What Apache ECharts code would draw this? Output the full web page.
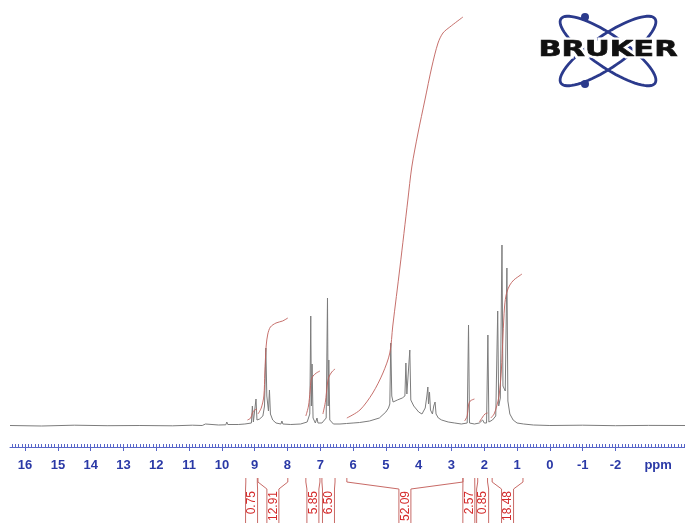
<!DOCTYPE html>
<html>
<head>
<meta charset="utf-8">
<script src="https://cdn.jsdelivr.net/npm/echarts@6/dist/echarts.min.js"></script>
<style>
  html, body { margin: 0; padding: 0; background: #fff; }
  #chart { width: 685px; height: 523px; }
</style>
</head>
<body>
<div id="chart"></div>
<script>
// ppm axis
const ppmMin = -4.12
const ppmMax = 16.46
const yMin = -21
const yMax = 426
const majorTicks = [16, 15, 14, 13, 12, 11, 10, 9, 8, 7, 6, 5, 4, 3, 2, 1, 0, -1, -2]
const unitLabelPos = -3.3

// spectrum trace [ppm, intensity]
const spectrum = [
  [16.46, 0.5], [15.5, 0], [14.5, 0.8], [13.5, 0.3], [12.5, 0.5], [11.5, 0.2], [10.9, 0.8],
  [10.6, 0.5], [10.5, 2], [10.45, 0.8], [10.1, 1], [9.88, 1.2], [9.85, 4], [9.82, 1.5],
  [9.5, 1.5], [9.3, 2], [9.1, 3], [9.07, 20], [9.04, 4], [8.99, 5], [8.96, 27], [8.93, 6],
  [8.85, 7], [8.75, 10], [8.7, 20], [8.66, 78], [8.63, 30], [8.58, 15], [8.55, 36], [8.52, 12],
  [8.45, 6], [8.35, 3], [8.2, 2], [8.17, 5], [8.14, 2], [7.9, 1.5], [7.6, 2], [7.4, 4],
  [7.32, 12], [7.29, 110], [7.27, 20], [7.25, 62], [7.22, 8], [7.15, 3], [7.10, 8], [7.07, 3],
  [6.95, 3], [6.82, 8], [6.78, 128], [6.76, 20], [6.74, 66], [6.71, 6], [6.6, 2], [6.4, 2],
  [6.2, 2.5], [6.0, 3], [5.8, 3.5], [5.5, 5], [5.2, 8], [5.0, 14], [4.92, 18], [4.88, 22],
  [4.85, 83], [4.82, 30], [4.78, 24], [4.65, 26], [4.5, 28], [4.42, 30], [4.39, 63], [4.36, 32],
  [4.30, 34], [4.27, 76], [4.24, 26], [4.15, 20], [4.0, 14], [3.9, 12], [3.80, 18], [3.75, 30],
  [3.72, 39], [3.70, 22], [3.67, 34], [3.64, 16], [3.58, 12], [3.54, 20], [3.50, 24], [3.47, 12],
  [3.4, 8], [3.3, 6], [3.1, 4], [2.9, 3], [2.7, 2], [2.52, 3], [2.48, 101], [2.45, 3], [2.3, 2],
  [2.15, 3], [2.05, 6], [2.0, 3], [1.93, 3], [1.89, 91], [1.86, 4], [1.75, 6], [1.65, 10],
  [1.59, 115], [1.56, 20], [1.51, 28], [1.46, 181], [1.43, 40], [1.36, 35], [1.31, 158],
  [1.28, 25], [1.22, 12], [1.12, 6], [1.0, 3], [0.8, 2], [0.5, 1], [0, 0.5], [-1, 0.8],
  [-2, 0.3], [-3, 0.6], [-4.12, 0.5]
]

// integration regions
const intStart = [9.27, 8.90, 7.44, 6.95, 6.19, 2.65, 2.20, 1.76]
const intEnd = [8.92, 7.99, 7.01, 6.55, 2.65, 2.29, 1.90, 0.82]
const intLabels = ['0.75', '12.91', '5.85', '6.50', '52.09', '2.57', '0.85', '18.48']

// integral traces [ppm, height]
const int075 = [[9.22, 6], [9.12, 8], [9.07, 13], [9.0, 16], [8.93, 17]]
const int1291 = [[8.90, 12], [8.80, 18], [8.72, 30], [8.69, 53], [8.65, 80], [8.60, 92], [8.52, 99], [8.35, 103], [8.15, 105], [7.99, 108]]
const int585 = [[7.44, 10], [7.36, 20], [7.31, 35], [7.28, 46], [7.22, 50], [7.12, 53], [7.01, 55]]
const int650 = [[6.92, 12], [6.84, 25], [6.79, 40], [6.75, 48], [6.65, 54], [6.55, 57]]
const int5209 = [[6.19, 8], [5.79, 16], [5.40, 33], [5.09, 53], [4.88, 73], [4.79, 100], [4.57, 159], [4.33, 226], [4.21, 259], [4.02, 293], [3.81, 326], [3.60, 359], [3.41, 383], [3.26, 393], [3.05, 399], [2.65, 409]]
const int257 = [[2.60, 5], [2.52, 10], [2.48, 21], [2.43, 25], [2.30, 27]]
const int085 = [[2.15, 4], [2.05, 9], [1.98, 12], [1.90, 13]]
const int1848 = [[1.80, 8], [1.70, 12], [1.62, 20], [1.55, 30], [1.48, 55], [1.43, 90], [1.38, 120], [1.32, 133], [1.22, 141], [1.10, 146], [0.98, 149], [0.85, 152]]
const integralTraces = [int075, int1291, int585, int650, int5209, int257, int085, int1848]

const minorTicks = []
for (let v = 164; v >= -41; v--) minorTicks.push(v / 10)

const blue = '#2a39a6'
const axisBlue = '#5866c8'
const intColor = '#c0605c'

const chart = echarts.init(document.getElementById('chart'))

function ellipsePoints(cx, cy, a, b, ang) {
  const pts = []
  const c = Math.cos(ang), s = Math.sin(ang)
  for (let k = 0; k < 72; k++) {
    const t = k / 72 * Math.PI * 2
    const ex = a * Math.cos(t), ey = b * Math.sin(t)
    pts.push([cx + ex * c - ey * s, cy + ex * s + ey * c])
  }
  return pts
}

const logoBlue = '#2b3a8c'
const logo = [
  { type: 'polygon', shape: { points: ellipsePoints(608, 51, 57, 16, 0.6) }, style: { fill: null, stroke: logoBlue, lineWidth: 2.8 } },
  { type: 'polygon', shape: { points: ellipsePoints(608, 51, 57, 16, -0.6) }, style: { fill: null, stroke: logoBlue, lineWidth: 2.8 } },
  { type: 'circle', shape: { cx: 585, cy: 17, r: 4 }, style: { fill: logoBlue } },
  { type: 'circle', shape: { cx: 585, cy: 84, r: 4 }, style: { fill: logoBlue } },
  { type: 'text', x: 608, y: 51, scaleX: 1.45, style: { text: 'BRUKER', font: 'bold 21px "DejaVu Sans"', fill: '#fff', stroke: '#fff', lineWidth: 5, align: 'center', verticalAlign: 'middle' } },
  { type: 'text', x: 608, y: 51, scaleX: 1.45, style: { text: 'BRUKER', font: 'bold 21px "DejaVu Sans"', fill: '#111', stroke: '#111', lineWidth: 0.6, align: 'center', verticalAlign: 'middle' } }
]

const series = [
  {
    type: 'line',
    data: spectrum,
    symbol: 'none',
    lineStyle: { color: '#7c7c7c', width: 1 },
    silent: true,
    z: 2
  },
  ...integralTraces.map(tr => ({
    type: 'line',
    data: tr,
    symbol: 'none',
    smooth: 0.3,
    lineStyle: { color: intColor, width: 1, opacity: 0.9 },
    silent: true,
    z: 3
  })),
  {
    type: 'custom',
    clip: false,
    silent: true,
    data: intStart.map((s, i) => [s, intEnd[i], 0, i]),
    encode: { x: [0, 1], y: 2 },
    renderItem: (params, api) => {
      const i = api.value(3)
      const xa = api.coord([api.value(0), 0])[0]
      const xb = api.coord([api.value(1), 0])[0]
      const y0 = api.coord([0, yMin])[1]
      const xc = (xa + xb) / 2
      const half = 6
      const top = y0 + 31, knee = y0 + 35, join = y0 + 42
      const bottom = api.getHeight()
      const ls = { stroke: '#c86a66', lineWidth: 1, fill: null }
      return {
        type: 'group',
        children: [
          { type: 'polyline', shape: { points: [[xa, top], [xa, knee], [xc - half, join], [xc - half, bottom]] }, style: ls },
          { type: 'polyline', shape: { points: [[xb, top], [xb, knee], [xc + half, join], [xc + half, bottom]] }, style: ls },
          {
            type: 'text', x: xc + 0.5, y: join + 2, rotation: Math.PI / 2,
            style: { text: intLabels[i], fill: '#d42a2a', font: '12px "Liberation Sans"', align: 'right', verticalAlign: 'middle' }
          }
        ]
      }
    }
  }
]

chart.setOption({
  backgroundColor: '#fff',
  animation: false,
  grid: { left: 10, right: 0, top: 0, bottom: 76 },
  xAxis: [
    {
      type: 'value', inverse: true, min: ppmMin, max: ppmMax, position: 'bottom',
      axisLine: { show: true, onZero: false, lineStyle: { color: axisBlue, width: 1 } },
      axisTick: { show: true, inside: true, length: 3, customValues: minorTicks, lineStyle: { color: axisBlue } },
      axisLabel: { show: false },
      splitLine: { show: false }
    },
    {
      type: 'value', inverse: true, min: ppmMin, max: ppmMax, position: 'bottom',
      axisLine: { show: false, onZero: false },
      axisTick: { show: true, length: 4, customValues: majorTicks, lineStyle: { color: axisBlue } },
      axisLabel: {
        show: true, margin: 12, customValues: majorTicks.concat([unitLabelPos]),
        color: blue, fontWeight: 'bold', fontSize: 13, fontFamily: 'Liberation Sans',
        formatter: v => v < -3 ? 'ppm' : String(v)
      },
      splitLine: { show: false }
    }
  ],
  yAxis: { type: 'value', min: yMin, max: yMax, show: false, splitLine: { show: false } },
  graphic: logo,
  series
})
</script>
</body>
</html>
